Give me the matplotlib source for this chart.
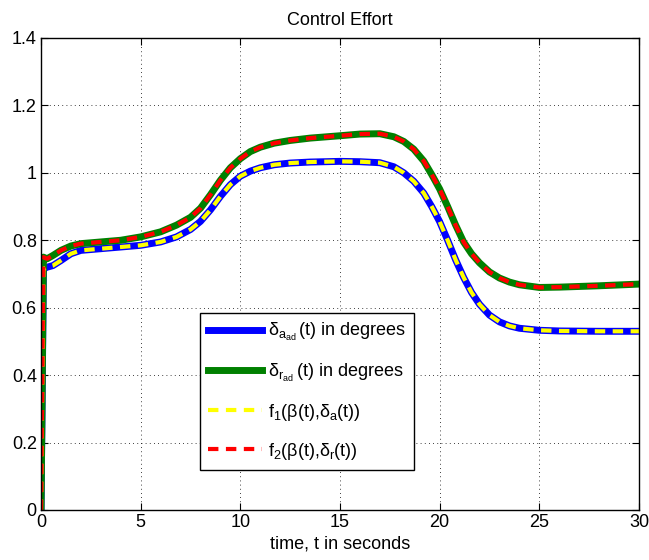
import matplotlib
matplotlib.use('Agg')
import matplotlib.pyplot as plt
import numpy as np

plt.rcParams['font.family'] = ['Liberation Sans', 'DejaVu Sans']
plt.rcParams['mathtext.fontset'] = 'custom'
plt.rcParams['mathtext.rm'] = 'Liberation Sans'

# time samples
t = [0, 0.12, 0.3, 0.6, 1.0, 1.5, 2.0, 3.0, 4.0, 5.0, 6.0, 6.8, 7.5, 8.0,
     8.5, 9.0, 9.5, 10.0, 10.5, 11.0, 11.7, 12.5, 13.5, 15.0, 16.0, 17.0,
     17.7, 18.2, 18.7, 19.2, 19.6, 20.0, 20.4, 20.8, 21.2, 21.6, 22.0,
     22.5, 23.0, 23.5, 24.0, 25.0, 26.0, 28.0, 30.0]

delta_a = [0, 0.715, 0.72, 0.725, 0.74, 0.76, 0.77, 0.775, 0.78, 0.785,
           0.795, 0.81, 0.832, 0.856, 0.89, 0.93, 0.965, 0.99, 1.005,
           1.015, 1.024, 1.029, 1.032, 1.034, 1.033, 1.03, 1.018, 1.0,
           0.975, 0.94, 0.90, 0.855, 0.80, 0.742, 0.69, 0.645, 0.61, 0.578,
           0.558, 0.546, 0.539, 0.533, 0.531, 0.53, 0.53]

delta_r = [0, 0.75, 0.745, 0.755, 0.77, 0.783, 0.79, 0.795, 0.80, 0.81,
           0.825, 0.845, 0.868, 0.895, 0.935, 0.978, 1.015, 1.042, 1.063,
           1.076, 1.088, 1.096, 1.103, 1.11, 1.115, 1.116, 1.107, 1.093,
           1.07, 1.035, 0.995, 0.952, 0.90, 0.845, 0.795, 0.76, 0.733, 0.706,
           0.688, 0.676, 0.668, 0.66, 0.661, 0.665, 0.67]

# approximations lie right on top of the true signals
f1 = list(delta_a)
f2 = list(delta_r)

labels = [r'$\mathregular{\delta_{a_{ad}}}\,$(t) in degrees',
          r'$\mathregular{\delta_{r_{ad}}}\,$(t) in degrees',
          r'$\mathregular{f_1(\beta(t){,}\delta_a(t))}$',
          r'$\mathregular{f_2(\beta(t){,}\delta_r(t))}$']

fig = plt.figure(figsize=(6.49, 5.60), dpi=100)
ax = fig.add_axes([0.0632, 0.0893, 0.9214, 0.8429])

ax.plot(t, delta_a, '-', color=(0, 0, 1), linewidth=5, label=labels[0])
ax.plot(t, delta_r, '-', color=(0, 0.5, 0), linewidth=5, label=labels[1])
ax.plot(t, f1, '--', color=(1, 1, 0), linewidth=3, dashes=(2.5, 1.8), label=labels[2])
ax.plot(t, f2, '--', color=(1, 0, 0), linewidth=3, dashes=(2.5, 1.8), label=labels[3])

ax.set_xlim([0, 30])
ax.set_ylim([0, 1.4])
ax.set_xticks([0, 5, 10, 15, 20, 25, 30])
ax.set_yticks([0, 0.2, 0.4, 0.6, 0.8, 1, 1.2, 1.4])
ax.set_yticklabels(['0', '0.2', '0.4', '0.6', '0.8', '1', '1.2', '1.4'])
ax.tick_params(direction='in', top=True, right=True, length=5, labelsize=13, pad=3)
ax.grid(True, linestyle=(0, (1, 4)), color='k', linewidth=0.6)
for s in ax.spines.values():
    s.set_linewidth(1)

ax.set_title('Control Effort', fontsize=13, pad=9)
ax.set_xlabel('time, t in seconds', fontsize=13, labelpad=3)

leg = ax.legend(loc='lower left', bbox_to_anchor=(0.266, 0.085), fontsize=13,
                frameon=True, fancybox=False, framealpha=1, edgecolor='k',
                handlelength=3.0, handletextpad=0.3, borderpad=0.45,
                labelspacing=1.0, borderaxespad=0)
leg.get_frame().set_linewidth(1)

plt.savefig('out.png', dpi=100)
